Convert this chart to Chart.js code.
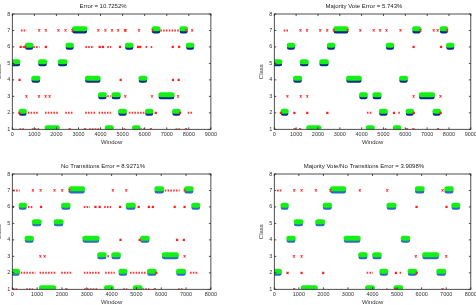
<!DOCTYPE html>
<html>
<head>
<meta charset="utf-8">
<script src="https://cdn.jsdelivr.net/npm/chart.js@4.4.0/dist/chart.umd.min.js"></script>
<style>
  html, body { margin: 0; padding: 0; background: #fff; }
  body { width: 476px; height: 305px; position: relative; overflow: hidden; }
  canvas { position: absolute; }
</style>
</head>
<body>
<canvas id="p1"></canvas>
<canvas id="p2"></canvas>
<canvas id="p3"></canvas>
<canvas id="p4"></canvas>
<script>
const titles = [
  'Error = 10.7252%',
  'Majority Vote Error = 5.743%',
  'No Transitions Error = 8.9271%',
  'Majority Vote/No Transitions Error = 3.9098%'
];
const xMaxes = [9000, 9000, 8000, 8000];
const classTicks = [1, 2, 3, 4, 5, 6, 7, 8];

// true activity segments [start window, end window, class]
const segsFull = [
  [0, 255, 5], [400, 545, 2], [680, 845, 6], [970, 1160, 4], [1275, 1465, 5],
  [1575, 2040, 1], [2170, 2385, 5], [2520, 2680, 6], [2815, 3290, 7], [3400, 3895, 4],
  [3995, 4170, 3], [4300, 4490, 1], [4605, 4805, 3], [4905, 5085, 2], [5215, 5385, 6],
  [5540, 5700, 1], [5830, 6010, 4], [6125, 6285, 2], [6425, 6605, 7], [6730, 7245, 3],
  [7355, 7520, 2], [7685, 7850, 7], [7980, 8140, 6]
];
const segsNoTrans = [
  [0, 210, 2], [350, 490, 6], [590, 770, 4], [890, 1080, 5], [1175, 1670, 1],
  [1765, 1965, 5], [2065, 2250, 6], [2365, 2830, 7], [2920, 3415, 4], [3515, 3700, 3],
  [3795, 3995, 1], [4085, 4275, 3], [4375, 4540, 2], [4665, 4875, 6], [4950, 5150, 1],
  [5245, 5435, 4], [5525, 5720, 2], [5820, 6020, 7], [6120, 6610, 3], [6695, 6900, 2],
  [7020, 7205, 7], [7305, 7475, 6]
];

// misclassified windows: runs [start, end, predicted class] and single marks [window, predicted class]
const err1Runs = [
  [390, 650, 7], [6710, 7560, 7],
  [470, 560, 6], [950, 1230, 6], [3310, 3700, 6], [4300, 4480, 6], [6040, 6160, 6], [6270, 6370, 6],
  [4300, 4460, 3],
  [700, 1210, 2], [1480, 2080, 2], [2400, 2760, 2], [3300, 3780, 2], [3910, 4470, 2], [5280, 5990, 2], [7950, 8180, 2],
  [330, 540, 1], [890, 1240, 1], [3480, 3950, 1], [5050, 5140, 1], [5800, 6050, 1], [7400, 7600, 1]
];
const err1Marks = [
  [1220, 7], [1520, 7], [2090, 7], [2410, 7], [2720, 7], [3900, 7], [4220, 7], [4520, 7],
  [4800, 7], [5100, 7], [5140, 7], [5740, 7], [6360, 7], [7880, 7], [8150, 7],
  [380, 6], [580, 6], [1520, 6], [3960, 6], [4110, 6], [4880, 6], [5700, 6], [5800, 6], [7270, 6], [7560, 6],
  [330, 4], [4910, 4], [7280, 4], [7540, 4],
  [640, 3], [1210, 3], [1510, 3], [1690, 3], [5120, 3], [6330, 3], [7510, 3],
  [320, 2], [6500, 2], [7600, 2],
  [2600, 1], [3300, 1], [6280, 1], [7870, 1]
];
const err2Runs = [[430, 630, 7], [4240, 4500, 2], [5680, 5770, 2], [5060, 5140, 1]];
const err2Marks = [
  [1200, 7], [1500, 7], [2100, 7], [2420, 7], [2720, 7], [3360, 7], [3940, 7], [4550, 7],
  [4840, 7], [5140, 7], [5780, 7], [6700, 7], [7300, 7], [7480, 7], [7920, 7],
  [6380, 6], [7640, 6],
  [600, 3], [1210, 3], [1510, 3], [6380, 3], [7610, 3],
  [300, 2], [920, 2], [1510, 2], [2430, 2], [5480, 2], [6390, 2], [7620, 2],
  [930, 1], [1180, 1], [6070, 1], [6370, 1], [7500, 1]
];
const err3Runs = [
  [40, 300, 7], [6140, 6740, 7],
  [630, 830, 6], [2880, 3130, 6], [3700, 3980, 6],
  [3830, 3930, 3],
  [340, 930, 2], [1100, 1740, 2], [1970, 2370, 2], [2880, 3530, 2], [3740, 4130, 2], [4740, 5420, 2], [7160, 7500, 2],
  [20, 200, 1], [560, 830, 1], [2900, 3450, 1], [4470, 4630, 1], [5240, 5520, 1], [6680, 6900, 1]
];
const err3Marks = [
  [830, 7], [1140, 7], [1700, 7], [2010, 7], [2300, 7], [4050, 7], [4590, 7], [6940, 7],
  [20, 6], [1160, 6], [3350, 6], [3520, 6], [4340, 6], [5090, 6], [5500, 6], [5660, 6], [6540, 6], [6940, 6],
  [4360, 4], [5130, 4], [6640, 4], [6910, 4],
  [1130, 3], [1300, 3], [6940, 3],
  [5800, 2],
  [2180, 1], [5740, 1]
];
const err4Runs = [[110, 300, 7], [3760, 4010, 2], [5100, 5190, 2], [4560, 4610, 1]];
const err4Marks = [
  [810, 7], [1110, 7], [1690, 7], [2280, 7], [3480, 7], [4600, 7], [6850, 7],
  [5790, 6], [7010, 6],
  [800, 3], [1110, 3], [5760, 3], [7000, 3],
  [540, 2], [1110, 2], [1990, 2], [4950, 2], [5800, 2],
  [810, 1], [4930, 1], [6850, 1]
];

const FONT = 'Liberation Sans, Arial, Helvetica, sans-serif';

// plot areas in page pixels
const panels = [
  { id: 'p1', area: [12.3, 14, 211, 129.3], segs: segsFull, runs: err1Runs, marks: err1Marks, blue: '#0b2a8c' },
  { id: 'p2', area: [274.3, 14, 470.8, 129.3], segs: segsFull, runs: err2Runs, marks: err2Marks, blue: '#0b2a8c' },
  { id: 'p3', area: [12.3, 174, 211, 289.3], segs: segsNoTrans, runs: err3Runs, marks: err3Marks, blue: '#2c6cc0' },
  { id: 'p4', area: [274.3, 174, 470.8, 289.3], segs: segsNoTrans, runs: err4Runs, marks: err4Marks, blue: '#2c6cc0' }
];

function segPoints(list, dy) {
  const pts = [];
  list.forEach(([s, e, c]) => {
    pts.push({ x: s, y: c + dy }, { x: e, y: c + dy }, { x: e, y: null });
  });
  return pts;
}

const frame = {
  id: 'frame',
  afterDraw(chart) {
    const { ctx, chartArea: a, scales: { x, y } } = chart;
    ctx.save();
    ctx.strokeStyle = '#222';
    ctx.lineWidth = 0.8;
    ctx.strokeRect(a.left, a.top, a.right - a.left, a.bottom - a.top);
    ctx.beginPath();
    x.ticks.forEach(t => {
      const px = x.getPixelForValue(t.value);
      ctx.moveTo(px, a.bottom); ctx.lineTo(px, a.bottom - 2);
      ctx.moveTo(px, a.top); ctx.lineTo(px, a.top + 2);
    });
    y.ticks.forEach(t => {
      const py = y.getPixelForValue(t.value);
      ctx.moveTo(a.left, py); ctx.lineTo(a.left + 2, py);
      ctx.moveTo(a.right, py); ctx.lineTo(a.right - 2, py);
    });
    ctx.stroke();
    ctx.restore();
  }
};

panels.forEach((p, i) => {
  const [aL, aT, aR, aB] = p.area;
  const left = Math.floor(aL - 17);
  const top = Math.floor(aT - 14);
  const width = Math.ceil(aR - left + 8);
  const height = Math.ceil(aB - top + 19);
  const yw = aL - left;
  const titleH = aT - top;
  const padR = width - (aR - left);
  const padB = height - (aB - top) - 17;

  const cv = document.getElementById(p.id);
  cv.width = width;
  cv.height = height;
  cv.style.left = left + 'px';
  cv.style.top = top + 'px';
  cv.style.width = width + 'px';
  cv.style.height = height + 'px';

  new Chart(cv, {
    type: 'scatter',
    data: {
      datasets: [
        {
          data: p.marks.map(([x, c]) => ({ x, y: c })),
          pointStyle: 'crossRot', pointRadius: 1.4, pointBorderWidth: 1.1,
          borderColor: '#ff1a1a', backgroundColor: '#ff1a1a', clip: 0
        },
        {
          data: segPoints(p.runs, 0), showLine: true, spanGaps: false,
          borderColor: 'rgba(255,30,30,0.9)', borderWidth: 2, borderDash: [1.6, 1.2],
          pointRadius: 0, clip: 0
        },
        {
          data: segPoints(p.segs, 0.1), showLine: true, spanGaps: false,
          borderColor: '#14f014', borderWidth: 5, borderCapStyle: 'round',
          pointRadius: 0, clip: 0
        },
        {
          data: segPoints(p.segs, -0.04), showLine: true, spanGaps: false,
          borderColor: p.blue, borderWidth: 4.5, borderCapStyle: 'round',
          pointRadius: 0, clip: 0
        }
      ]
    },
    options: {
      responsive: false,
      animation: false,
      events: [],
      layout: { autoPadding: false, padding: { left: 0, top: 0, right: padR, bottom: padB } },
      plugins: {
        legend: { display: false },
        tooltip: { enabled: false },
        title: {
          display: true, text: titles[i], color: '#222',
          font: { family: FONT, size: 6, weight: 'normal' },
          padding: { top: 3.1, bottom: titleH - 7.2 - 3.1 }
        }
      },
      scales: {
        x: {
          type: 'linear', min: 0, max: xMaxes[i],
          grid: { display: false, drawTicks: false },
          border: { display: false },
          ticks: {
            stepSize: 1000, autoSkip: false, maxRotation: 0, padding: 2, color: '#333',
            font: { family: FONT, size: 5.5 },
            callback: v => String(v)
          },
          title: { display: true, text: 'Window', color: '#333', padding: { top: 0, bottom: 0 }, font: { family: FONT, size: 6 } },
          afterFit: s => { s.height = 17; }
        },
        y: {
          type: 'linear', min: classTicks[0], max: classTicks[classTicks.length - 1],
          grid: { display: false, drawTicks: false },
          border: { display: false },
          ticks: { stepSize: 1, padding: 2, color: '#333', font: { family: FONT, size: 5.5 }, callback: v => String(v) },
          title: { display: true, text: 'Class', color: '#333', padding: { top: 0.8, bottom: 0 }, font: { family: FONT, size: 6 } },
          afterFit: s => { s.width = yw; }
        }
      }
    },
    plugins: [frame]
  });
});
</script>
</body>
</html>
